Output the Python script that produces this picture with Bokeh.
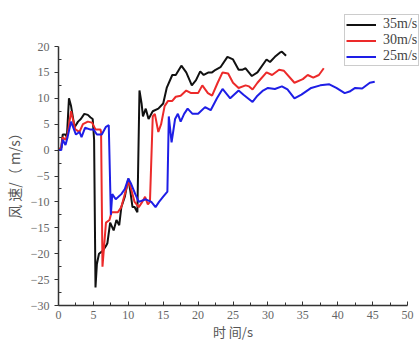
from bokeh.plotting import figure
from bokeh.models import Legend, LegendItem, ColumnDataSource, Range1d, FixedTicker
from bokeh.embed import file_html
from bokeh.resources import INLINE

# 35 m/s series
t35 = [0, 0.4, 0.6, 1.0, 1.2, 1.5, 1.8, 2.3, 2.8, 3.2, 3.7, 4.2, 4.6, 4.9, 5.1, 5.3, 5.5, 5.8, 6.3, 6.8, 7.0, 7.4, 7.9, 8.3, 8.7, 9.0, 9.5, 10.0, 10.3, 10.6, 10.9, 11.1, 11.3, 11.6, 11.9, 12.1, 12.5, 12.9, 13.5, 14.3, 15.0, 15.5, 16.3, 16.8, 17.6, 18.3, 19.1, 19.7, 20.3, 20.8, 21.5, 22.0, 22.5, 23.2, 24.2, 25.0, 25.8, 26.3, 26.8, 27.7, 28.5, 29.8, 30.3, 31.0, 31.7, 32.0, 32.6]
v35 = [0, 0.5, 3.0, 3.0, 2.5, 10.0, 8.5, 4.4, 5.5, 6.0, 7.0, 6.8, 6.3, 6.0, 2.0, -26.5, -22.0, -20.0, -19.5, -18.5, -18.0, -14.0, -15.5, -13.5, -14.5, -11.0, -9.0, -5.5, -8.0, -11.0, -11.0, -11.5, -12.0, 11.5, 9.0, 6.5, 8.0, 6.0, 7.5, 8.0, 9.0, 12.0, 14.5, 14.5, 16.3, 15.0, 12.5, 13.5, 15.2, 14.5, 15.0, 15.0, 15.5, 16.0, 18.0, 17.5, 15.5, 15.5, 15.8, 14.3, 15.0, 17.5, 17.0, 18.0, 18.8, 19.0, 18.2]

# 30 m/s series
t30 = [0, 0.4, 0.6, 1.0, 1.3, 1.8, 2.4, 3.0, 3.5, 4.2, 4.8, 5.3, 6.0, 6.1, 6.3, 6.8, 7.3, 7.6, 8.5, 9.0, 9.3, 9.8, 10.1, 10.5, 10.9, 11.5, 12.0, 12.4, 12.8, 13.1, 13.5, 13.8, 14.3, 14.7, 15.2, 15.7, 16.3, 16.8, 17.5, 18.3, 19.0, 20.0, 20.6, 21.4, 22.0, 22.8, 23.5, 24.3, 25.0, 25.8, 26.8, 27.3, 27.8, 28.5, 29.8, 30.6, 31.6, 32.3, 33.8, 35.0, 35.7, 36.5, 37.3, 38.0]
v30 = [0, 0.5, 2.5, 2.0, 3.0, 7.5, 4.0, 3.5, 5.0, 5.5, 5.3, 4.0, 4.0, 3.5, -22.5, -14.0, -13.5, -12.0, -12.0, -11.0, -9.5, -7.0, -6.0, -8.0, -10.0, -11.0, -10.0, -9.0, -10.5, -10.0, 6.5, 7.0, 3.5, 5.0, 8.5, 9.5, 9.5, 10.3, 10.5, 11.5, 11.0, 11.0, 12.5, 11.0, 10.5, 13.0, 15.0, 14.8, 13.0, 12.0, 12.5, 12.3, 11.7, 13.0, 15.0, 14.5, 15.5, 15.3, 13.0, 13.7, 14.5, 14.0, 14.5, 15.8]

# 25 m/s series
t25 = [0, 0.4, 0.6, 1.0, 1.3, 1.8, 2.5, 3.0, 3.3, 3.8, 4.5, 5.0, 5.5, 6.2, 6.8, 7.2, 7.5, 7.7, 8.2, 9.0, 9.5, 10.0, 10.4, 11.0, 11.5, 12.5, 13.3, 13.9, 14.4, 15.0, 15.6, 15.8, 16.2, 16.7, 17.1, 17.5, 18.0, 18.5, 19.2, 20.0, 21.0, 21.8, 22.7, 23.5, 24.6, 25.8, 26.5, 27.8, 28.5, 29.3, 30.0, 31.0, 32.0, 32.8, 33.8, 34.8, 36.2, 37.5, 38.8, 39.8, 41.0, 41.7, 42.5, 43.5, 44.6, 45.3]
v25 = [0, 0.0, 2.0, 1.0, 2.5, 5.5, 3.0, 3.5, 2.5, 4.3, 4.0, 4.0, 3.0, 3.0, 4.5, 4.8, -12.5, -8.5, -9.5, -8.5, -7.5, -5.5, -6.5, -8.5, -10.0, -9.5, -10.0, -11.0, -10.0, -9.0, -8.0, 6.5, 1.5, 6.0, 7.0, 5.5, 7.0, 8.0, 7.0, 7.0, 8.3, 7.7, 10.0, 11.8, 10.0, 11.5, 10.7, 9.3, 10.5, 11.5, 12.0, 11.8, 12.3, 11.7, 10.0, 10.7, 12.0, 12.5, 12.7, 12.0, 11.0, 11.3, 12.0, 11.9, 13.0, 13.2]

labels = ["35m/s", "30m/s", "25m/s"]
colors = ["#111111", "#ec2a2a", "#1e1ee6"]
x_ticks = [0, 5, 10, 15, 20, 25, 30, 35, 40, 45, 50]
y_ticks = [-30, -25, -20, -15, -10, -5, 0, 5, 10, 15, 20]
x_title = "时 间/s"
y_title = "风 速/（ m/s）"

# layout: axes span 0..50 over 350 px and -30..20 over 259 px;
# the frame is extended to the right and top so the legend can overflow the axes box
X0, X1, Y0, Y1 = 0, 50, -30, 20
AX_W, AX_H, EXTRA_R, EXTRA_T = 350, 259, 13, 42
x_end = X1 + EXTRA_R * (X1 - X0) / AX_W
y_end = Y1 + EXTRA_T * (Y1 - Y0) / AX_H

p = figure(width=420, height=343, output_backend="svg", toolbar_location=None,
           x_range=Range1d(X0, x_end), y_range=Range1d(Y0, y_end),
           min_border_left=57, min_border_right=0, min_border_top=4, min_border_bottom=38)
p.xgrid.visible = False
p.ygrid.visible = False
p.outline_line_color = None
p.background_fill_color = "white"
p.border_fill_color = "white"

series = [(t35, v35), (t30, v30), (t25, v25)]
items = []
for (tx, vy), lab, col in zip(series, labels, colors):
    src = ColumnDataSource(dict(x=tx, y=vy))
    r = p.line("x", "y", source=src, line_color=col, line_width=2)
    m = p.scatter(x=[], y=[], marker="circle", size=3, color=col)
    items.append(LegendItem(label=lab, renderers=[r, m]))

for ax in (p.xaxis[0], p.yaxis[0]):
    ax.axis_line_color = "#333333"
    ax.axis_line_width = 1.5
    ax.major_tick_line_color = "#333333"
    ax.minor_tick_line_color = "#333333"
    ax.major_label_text_font = "Liberation Serif"
    ax.major_label_text_font_size = "12px"
    ax.major_label_text_color = "#666666"
    ax.axis_label_text_font = "Noto Sans CJK SC"
    ax.axis_label_text_font_style = "normal"
    ax.axis_label_text_color = "#555555"

p.xaxis[0].axis_label_text_font_size = "13px"
p.yaxis[0].axis_label_text_font_size = "14px"
p.xaxis[0].bounds = (X0, X1)
p.yaxis[0].bounds = (Y0, Y1)
p.xaxis[0].ticker = FixedTicker(ticks=x_ticks, minor_ticks=[2.5 + 5 * i for i in range(10)])
p.yaxis[0].ticker = FixedTicker(ticks=y_ticks, minor_ticks=[-27.5 + 5 * i for i in range(10)])
p.xaxis[0].major_tick_in = 4
p.xaxis[0].major_tick_out = 0
p.xaxis[0].minor_tick_in = 3
p.xaxis[0].minor_tick_out = 0
p.yaxis[0].major_tick_in = 0
p.yaxis[0].major_tick_out = 4
p.yaxis[0].minor_tick_in = 3
p.yaxis[0].minor_tick_out = 0
# trailing ideographic spaces shift the centred titles to sit under/beside the bounded axes
p.xaxis[0].axis_label = x_title + "\u3000"
p.yaxis[0].axis_label = y_title + "\u3000\u3000\u3000"
p.xaxis[0].major_label_standoff = 5
p.xaxis[0].axis_label_standoff = 0
p.yaxis[0].axis_label_standoff = 4

legend = Legend(items=items, location=(286, 239), orientation="vertical",
                label_text_font="Liberation Serif", label_text_font_size="14px",
                label_text_color="#444444", glyph_width=30, glyph_height=15,
                label_height=15, label_standoff=7, spacing=0, padding=1, margin=0,
                border_line_color="#999999", border_line_width=1,
                background_fill_alpha=1.0)
p.add_layout(legend, "center")

open("out.html", "w").write(file_html(p, INLINE))
